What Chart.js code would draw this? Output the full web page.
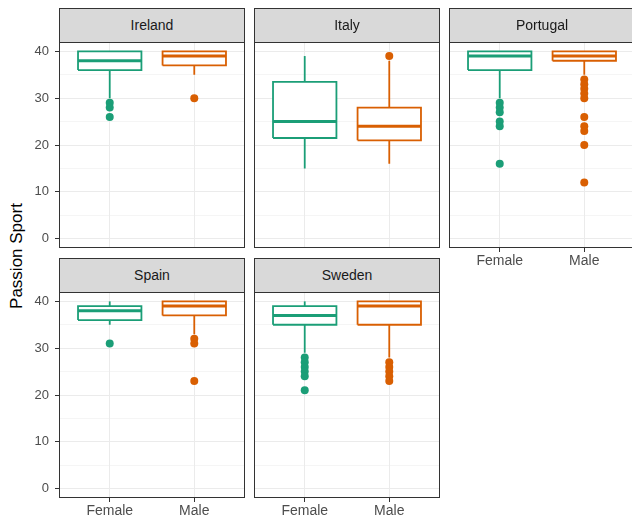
<!DOCTYPE html>
<html>
<head>
<meta charset="utf-8">
<script src="https://cdn.jsdelivr.net/npm/chart.js@4/dist/chart.umd.min.js"></script>
<style>
  html,body{margin:0;padding:0;background:#fff;}
  body{width:632px;height:526px;overflow:hidden;position:relative;font-family:"Liberation Sans",Arial,sans-serif;}
  canvas{position:absolute;}
  .strip{position:absolute;background:#d9d9d9;border:1px solid #333;box-sizing:border-box;text-align:center;color:#1a1a1a;font-size:14px;z-index:3;}
  .frame{position:absolute;border:1px solid #333;box-sizing:border-box;pointer-events:none;z-index:2;}
  #ytitle{position:absolute;width:240px;height:20px;line-height:20px;text-align:center;font-size:17px;color:#000;transform:rotate(-90deg);transform-origin:center center;}
</style>
</head>
<body>
<div id="ytitle">Passion Sport</div>
<script>
// ---------------- data ----------------
const countries = ['Ireland', 'Italy', 'Portugal', 'Spain', 'Sweden'];
const genders = ['Female', 'Male'];
const yTickValues = [0, 5, 10, 15, 20, 25, 30, 35, 40];

const femaleMin    = [30, 15,   30, 35, 29];
const femaleQ1     = [36, 21.5, 36, 36, 35];
const femaleMedian = [38, 25,   39, 38, 37];
const femaleQ3     = [40, 33.5, 40, 39, 39];
const femaleMax    = [40, 39,   40, 40, 40];
const femaleOutliers = [
  [29, 28, 26],
  [],
  [29, 28, 27, 25, 24, 16],
  [31],
  [28, 27, 26, 25, 24, 21]
];

const maleMin    = [35, 16, 35, 33, 28];
const maleQ1     = [37, 21, 38, 37, 35];
const maleMedian = [39, 24, 39, 39, 39];
const maleQ3     = [40, 28, 40, 40, 40];
const maleMax    = [40, 38, 40, 40, 40];
const maleOutliers = [
  [30],
  [39],
  [34, 33, 32, 31, 30, 26, 24, 23, 20, 12],
  [32, 31, 23],
  [27, 26, 25, 24, 23]
];

const seriesColors = ['#1b9e77', '#d95f02'];

// ---------------- layout ----------------
Chart.defaults.font.family = '"Liberation Sans", Arial, sans-serif';
const AX = 44, XH = 24, PT = 14, PR = 4;
const colLeft = [59, 254, 449];
const rowPlotTop = [42, 292];
const panelW = 186, panelH = 206, stripH = 34;
const boxHalf = 0.375;

const yt = document.getElementById('ytitle');
yt.style.left = (17 - 120) + 'px';
yt.style.top = (256 - 10) + 'px';

function statsFor(g, i) {
  if (g === 0) return {min: femaleMin[i], q1: femaleQ1[i], med: femaleMedian[i], q3: femaleQ3[i], max: femaleMax[i], out: femaleOutliers[i]};
  return {min: maleMin[i], q1: maleQ1[i], med: maleMedian[i], q3: maleQ3[i], max: maleMax[i], out: maleOutliers[i]};
}

countries.forEach((name, i) => {
  const row = i < 3 ? 0 : 1;
  const col = i < 3 ? i : i - 3;
  const left = colLeft[col], top = rowPlotTop[row];
  const showY = col === 0;
  const showX = row === 1 || i === 2;

  const strip = document.createElement('div');
  strip.className = 'strip';
  strip.style.left = left + 'px';
  strip.style.top = (top - stripH) + 'px';
  strip.style.width = panelW + 'px';
  strip.style.height = (stripH + 1) + 'px';
  strip.style.lineHeight = (stripH - 1) + 'px';
  strip.textContent = name;
  document.body.appendChild(strip);

  const frame = document.createElement('div');
  frame.className = 'frame';
  frame.style.left = left + 'px';
  frame.style.top = top + 'px';
  frame.style.width = panelW + 'px';
  frame.style.height = panelH + 'px';
  document.body.appendChild(frame);

  const cv = document.createElement('canvas');
  const cw = AX + panelW + PR, ch = PT + panelH + XH;
  cv.width = cw; cv.height = ch;
  cv.style.width = cw + 'px'; cv.style.height = ch + 'px';
  cv.style.left = (left - AX) + 'px';
  cv.style.top = (top - PT) + 'px';
  cv.style.zIndex = 1;
  document.body.appendChild(cv);

  const datasets = [];
  genders.forEach((gname, g) => {
    const s = statsFor(g, i);
    const x = g + 1;
    const c = seriesColors[g];
    datasets.push({
      label: gname + ' outliers', order: 0, showLine: false,
      data: s.out.map(v => ({x: x, y: v})),
      pointRadius: 4, pointBackgroundColor: c, pointBorderWidth: 0, pointBorderColor: c
    });
    datasets.push({
      label: gname + ' median', order: 1, showLine: true, pointRadius: 0,
      data: [{x: x - boxHalf, y: s.med}, {x: x + boxHalf, y: s.med}],
      borderColor: c, borderWidth: 3, borderCapStyle: 'butt'
    });
    datasets.push({
      label: gname + ' box', order: 2, showLine: true, pointRadius: 0,
      data: [{x: x - boxHalf, y: s.q1}, {x: x + boxHalf, y: s.q1}, {x: x + boxHalf, y: s.q3}, {x: x - boxHalf, y: s.q3}, {x: x - boxHalf, y: s.q1}],
      borderColor: c, borderWidth: 1.8, fill: 'shape', backgroundColor: '#ffffff', borderJoinStyle: 'miter'
    });
    datasets.push({
      label: gname + ' upper whisker', order: 3, showLine: true, pointRadius: 0,
      data: [{x: x, y: s.q3}, {x: x, y: s.max}],
      borderColor: c, borderWidth: 1.8
    });
    datasets.push({
      label: gname + ' lower whisker', order: 3, showLine: true, pointRadius: 0,
      data: [{x: x, y: s.q1}, {x: x, y: s.min}],
      borderColor: c, borderWidth: 1.8
    });
  });

  new Chart(cv, {
    type: 'scatter',
    data: {datasets},
    options: {
      responsive: false, animation: false, events: [],
      devicePixelRatio: 1,
      layout: {padding: {top: PT, right: PR, bottom: 0, left: 0}},
      plugins: {legend: {display: false}, tooltip: {enabled: false}, title: {display: false}},
      scales: {
        x: {
          type: 'linear', min: 0.4, max: 2.6,
          afterBuildTicks: sc => { sc.ticks = genders.map((_, k) => ({value: k + 1})); },
          afterFit: sc => { sc.height = XH; },
          border: {display: false},
          grid: {color: '#ebebeb', lineWidth: 1, drawTicks: showX, tickLength: 4, tickColor: '#333'},
          ticks: {display: showX, autoSkip: false, maxRotation: 0, padding: 1,
                  color: '#4d4d4d', font: {size: 14},
                  callback: v => genders[Math.round(v) - 1]}
        },
        y: {
          type: 'linear', min: -2, max: 42,
          afterBuildTicks: sc => { sc.ticks = yTickValues.map(v => ({value: v})); },
          afterFit: sc => { sc.width = AX; },
          border: {display: false},
          grid: {
            color: '#ebebeb',
            lineWidth: ctx => (ctx.tick && ctx.tick.value % 10 === 0) ? 1 : 0.5,
            drawTicks: true, tickLength: 4,
            tickColor: ctx => (showY && ctx.tick && ctx.tick.value % 10 === 0) ? '#333' : 'rgba(0,0,0,0)'
          },
          ticks: {display: showY, autoSkip: false, padding: 6, color: '#4d4d4d', font: {size: 13},
                  callback: v => (v % 10 === 0 ? String(v) : '')}
        }
      }
    }
  });
});
</script>
</body>
</html>
